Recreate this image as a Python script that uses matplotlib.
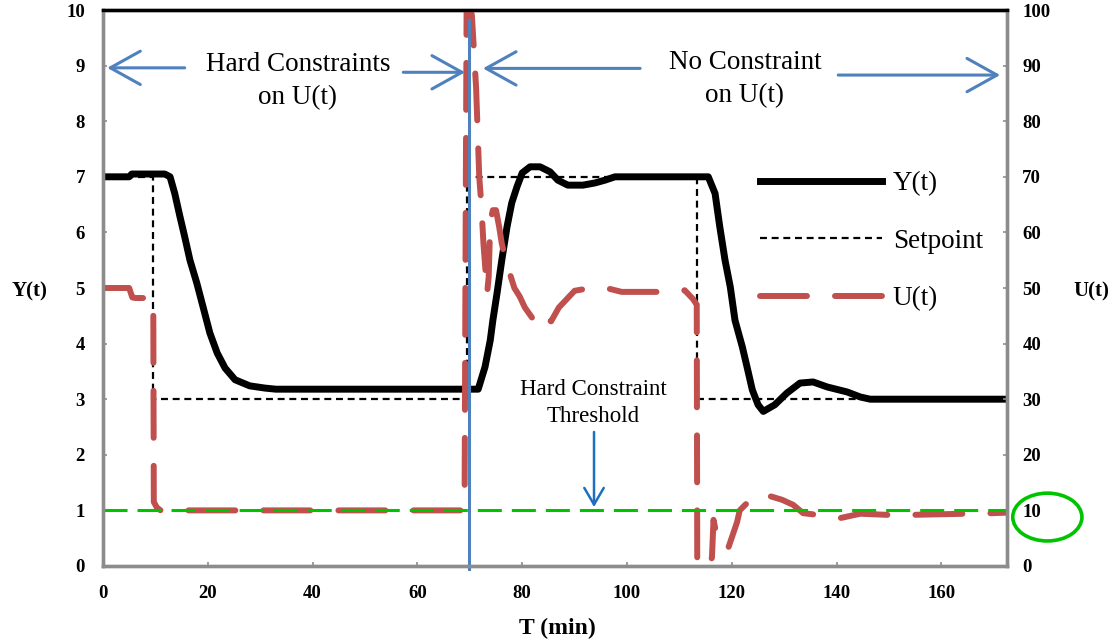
import matplotlib
matplotlib.use("Agg")
import matplotlib.pyplot as plt
from matplotlib.patches import Ellipse
from matplotlib.lines import Line2D

plt.rcParams["font.family"] = ["Liberation Serif", "DejaVu Serif"]
plt.rcParams["lines.scale_dashes"] = False

# controlled output Y(t), left axis
y_time = [0, 5.0, 5.5, 11.8, 12.8, 13.7, 14.7, 15.6, 16.6, 17.9, 19.1, 20.4,
          21.8, 23.3, 25.2, 28.0, 30.9, 33.0, 71.6, 72.9, 73.9, 74.4, 75.2,
          76.1, 77.1, 78.0, 79.0, 80.0, 81.5, 83.4, 85.3, 86.8, 88.7, 91.6,
          93.9, 95.8, 97.7, 115.5, 116.8, 117.7, 118.7, 119.7, 120.6, 122.0,
          122.9, 123.9, 125.0, 126.0, 128.2, 130.5, 133.0, 135.5, 138.2,
          142.0, 144.5, 146.4, 172.5]
y_vals = [7.0, 7.0, 7.05, 7.05, 7.0, 6.7, 6.28, 5.92, 5.5, 5.09, 4.66, 4.19,
          3.83, 3.56, 3.35, 3.24, 3.2, 3.18, 3.18, 3.58, 4.06, 4.42, 4.91,
          5.5, 6.1, 6.53, 6.82, 7.07, 7.18, 7.18, 7.09, 6.94, 6.85, 6.85,
          6.89, 6.94, 7.0, 7.0, 6.7, 6.1, 5.5, 5.02, 4.42, 3.94,
          3.58, 3.17, 2.9, 2.78, 2.9, 3.11, 3.29, 3.31, 3.22,
          3.13, 3.04, 3.0, 3.0]

# setpoint, left axis
sp_time = [0, 9.6, 9.6, 69.5, 69.5, 113.3, 113.3, 146.0]
sp_vals = [7, 7, 3, 3, 7, 7, 3, 3]

# manipulated input U(t), right axis
u_time = [0, 5.0, 5.6, 6.2, 9.6, 9.7, 10.3, 11.0, 12.0, 68.6, 69.0, 69.2,
          69.4, 70.4, 71.2, 71.8, 72.2, 72.6, 73.0, 73.3, 73.6, 73.9, 74.4,
          75.0, 75.6, 76.1, 76.6, 77.5, 78.5, 79.5, 80.5, 82.0, 83.5, 84.5,
          85.5, 87.0, 88.5, 90.0, 93.0, 96.0, 99.0, 110.0, 111.0, 112.6,
          113.3, 113.4, 115.5, 116.2, 116.5, 117.4, 119.3, 121.0, 121.5,
          123.5, 125.4, 127.5, 129.6, 131.7, 133.6, 136.3, 140.6, 144.5,
          149.6, 154.6, 169.8, 172.5]
u_vals = [50, 50, 48.3, 48.2, 48.2, 11.5, 10.5, 10, 10, 10, 11, 60,
          103, 99, 86, 70, 65, 58, 53, 49, 52, 62, 64,
          64, 61, 58, 56, 53, 50, 48.5, 46.5, 44.5, 43, 44.5,
          44, 46.5, 48, 49.5, 50, 50, 49.3, 49.3, 49.6, 48,
          47, 0, 0, 1.5, 8.3, 4.1, 3.2, 7.9, 10,
          11.9, 12.8, 12.5, 11.9, 11, 9.5, 9.2, 8.6, 9.4,
          9.2, 9.2, 9.5, 9.6]

u_threshold = 10
switch_time = 69.85
x_max = 172.5

x_ticks = list(range(0, 161, 20))
y_ticks = list(range(0, 11))
u_ticks = list(range(0, 101, 10))

blue = "#4F81BD"
red = "#C0504D"
green = "#00C400"
gray = "#8C8C8C"

fig = plt.figure(figsize=(11.18, 6.42), dpi=100)
ax = fig.add_axes([0.0921, 0.1184, 0.8086, 0.866])
ax2 = ax.twinx()

ax.plot(sp_time, sp_vals, color="black", lw=1.6, dashes=(5, 3.4))
ax.plot(y_time, y_vals, color="black", lw=5, solid_joinstyle="round")

ax2.plot(u_time, u_vals, color=red, lw=4.3, dashes=(33.8, 20.2),
         dash_capstyle="round", solid_joinstyle="round")
ax2.axhline(u_threshold, color=green, lw=2.2, dashes=(17.3, 7.2))
ax2.plot([switch_time, switch_time], [-0.5, 98.2], color=blue, lw=2.2,
         clip_on=False)

ax.set_xlim(0, x_max)
ax.set_ylim(0, 10)
ax2.set_ylim(0, 100)
ax.set_xticks(x_ticks)
ax.set_yticks(y_ticks)
ax2.set_yticks(u_ticks)

for a in (ax, ax2):
    for sp in a.spines.values():
        sp.set_linewidth(2.4)
        sp.set_color(gray)
    a.spines["top"].set_color("black")
    a.tick_params(direction="in", length=3, width=1.2, color=gray)
    for lab in a.get_xticklabels() + a.get_yticklabels():
        lab.set_fontsize(13.5)
        lab.set_fontweight("bold")
ax.tick_params(axis="y", pad=13)
ax.tick_params(axis="x", pad=14)
ax2.tick_params(axis="y", pad=11)

ax.set_xlabel("T (min)", fontsize=17, fontweight="bold", va="center")
ax.xaxis.set_label_coords(0.503, -0.1115)
ax.set_ylabel("Y(t)", fontsize=15, fontweight="bold", rotation=0, va="center")
ax.yaxis.set_label_coords(-0.081, 0.493)
ax2.set_ylabel("U(t)", fontsize=15, fontweight="bold", rotation=0, va="center")
ax2.yaxis.set_label_coords(1.093, 0.493)

# region arrows
arrow = dict(arrowstyle="->,head_length=1.08,head_width=0.6", color=blue,
             lw=2.2, mutation_scale=20, shrinkA=0, shrinkB=0)
ax.annotate("", xy=(0.8, 8.96), xytext=(15.6, 8.96), arrowprops=arrow)
ax.annotate("", xy=(69.1, 8.88), xytext=(57.3, 8.88), arrowprops=arrow)
ax.annotate("", xy=(72.5, 8.95), xytext=(102.5, 8.95), arrowprops=arrow)
ax.annotate("", xy=(171.2, 8.83), xytext=(140.3, 8.83), arrowprops=arrow)

ax.text(37.2, 8.72, "Hard Constraints\non U(t)", fontsize=19.5,
        ha="center", va="center", linespacing=1.45)
ax.text(122.5, 8.76, "No Constraint\non U(t)", fontsize=19.5,
        ha="center", va="center", linespacing=1.45)

ax.text(93.6, 2.93, "Hard Constraint\nThreshold", fontsize=16.5,
        ha="center", va="center", linespacing=1.4)
ax.annotate("", xy=(93.7, 1.06), xytext=(93.7, 2.41),
            arrowprops=dict(arrowstyle="->,head_length=0.6,head_width=0.35",
                            color="#1F6FC0", lw=1.8, mutation_scale=20,
                            shrinkA=0, shrinkB=0))

# circle around the threshold value on the right axis
ax.add_patch(Ellipse((180.2, 0.88), 13.2, 0.86, fill=False, edgecolor=green,
                     lw=2.6, clip_on=False))

handles = [
    Line2D([], [], color="black", lw=5),
    Line2D([], [], color="black", lw=1.6, dashes=(5, 3.4)),
    Line2D([], [], color=red, lw=4.3, dashes=(33.8, 20.2),
           dash_capstyle="round"),
]
ax2.legend(handles, ["Y(t)", "Setpoint", "U(t)"], loc="center left",
           bbox_to_anchor=(0.727, 0.584), frameon=False, fontsize=19.5,
           handlelength=4.5, handletextpad=0.4, labelspacing=1.2,
           borderpad=0, borderaxespad=0)

fig.savefig("out.png", dpi=100)
plt.close(fig)
